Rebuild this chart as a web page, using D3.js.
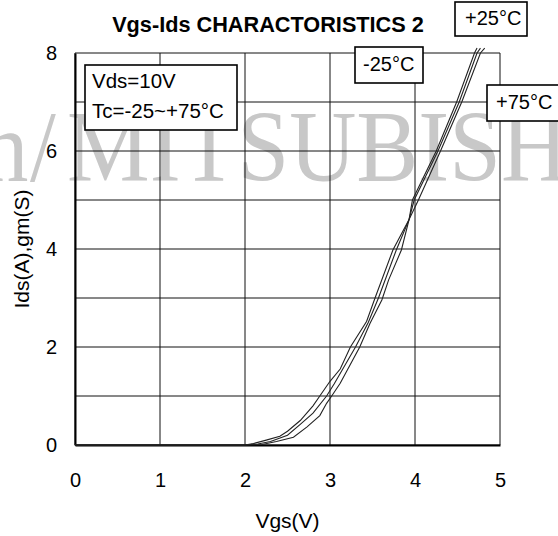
<!DOCTYPE html>
<html><head><meta charset="utf-8">
<script src="https://cdn.jsdelivr.net/npm/d3@7"></script>
<style>html,body{margin:0;padding:0;background:#fff}svg{display:block}</style>
</head><body>
<script>
const xTicks = [0, 1, 2, 3, 4, 5];
const yTicks = [0, 2, 4, 6, 8];
const yGrid = [0, 1, 2, 3, 4, 5, 6, 7, 8];

const vgsP75 = [0, 2.0, 2.1, 2.25, 2.41, 2.5, 2.65, 2.8, 2.88, 3.0, 3.12, 3.24, 3.43, 3.53, 3.74, 3.93, 4.04, 4.30, 4.55, 4.77, 4.82];
const idsP75 = [0, 0, 0.03, 0.1, 0.18, 0.28, 0.5, 0.8, 1.0, 1.3, 1.55, 2.0, 2.52, 3.0, 3.98, 4.6, 5.0, 6.0, 7.0, 8.0, 8.1];

const vgsP25 = [0, 2.0, 2.15, 2.3, 2.5, 2.65, 2.8, 2.96, 3.05, 3.3, 3.45, 3.57, 3.78, 3.93, 3.99, 4.27, 4.52, 4.73, 4.77];
const idsP25 = [0, 0, 0.02, 0.07, 0.2, 0.42, 0.65, 1.0, 1.25, 2.0, 2.5, 3.0, 3.98, 4.6, 5.0, 6.0, 7.0, 8.0, 8.1];

const vgsM25 = [0, 2.0, 2.2, 2.37, 2.57, 2.73, 2.88, 2.96, 3.02, 3.12, 3.35, 3.47, 3.61, 3.69, 3.84, 3.93, 3.97, 4.25, 4.49, 4.70, 4.73];
const idsM25 = [0, 0, 0.01, 0.07, 0.16, 0.37, 0.6, 0.85, 1.0, 1.26, 2.0, 2.48, 2.96, 3.37, 3.98, 4.6, 5.0, 6.0, 7.0, 8.0, 8.1];

const seriesNames = ["+75°C", "+25°C", "-25°C"];
const titleText = "Vgs-Ids CHARACTORISTICS 2";
const xTitle = "Vgs(V)";
const yTitle = "Ids(A),gm(S)";
const condLines = ["Vds=10V", "Tc=-25~+75°C"];

const W = 558, H = 536;
const svg = d3.select("body").append("svg").attr("width", W).attr("height", H)
  .style("font-family", "Arial, 'Liberation Sans', sans-serif");

const x = d3.scaleLinear().domain([0, 5]).range([75, 500]);
const y = d3.scaleLinear().domain([0, 8]).range([445, 53]);

// watermark
const wm = svg.append("text").attr("transform", "translate(0,181) scale(1,1.1)")
  .attr("font-family", "'Liberation Serif', 'Times New Roman', serif")
  .attr("font-size", 93).attr("fill", "#c8c8c8");
wm.append("tspan").attr("x", -18).text("n");
wm.append("tspan").attr("x", 30).text("/");
wm.append("tspan").attr("x", 67).text("MITSUBISHI");

// grid
const g = svg.append("g");
g.selectAll("line.vg").data(xTicks).join("line")
  .attr("x1", d => x(d)).attr("x2", d => x(d)).attr("y1", y(0)).attr("y2", y(8))
  .attr("stroke", "#111").attr("stroke-width", 1);
g.selectAll("line.hg").data(yGrid).join("line")
  .attr("x1", x(0)).attr("x2", x(5)).attr("y1", d => y(d)).attr("y2", d => y(d))
  .attr("stroke", "#111").attr("stroke-width", 1);

// axes
const xAxis = svg.append("g").attr("transform", `translate(0,${y(0)})`)
  .call(d3.axisBottom(x).tickValues(xTicks).tickSize(0).tickPadding(28).tickFormat(d3.format("d")));
const yAxis = svg.append("g").attr("transform", `translate(${x(0)},0)`)
  .call(d3.axisLeft(y).tickValues(yTicks).tickSize(0).tickPadding(18).tickFormat(d3.format("d")));
[xAxis, yAxis].forEach(a => {
  a.selectAll("text").attr("font-size", 20).attr("font-family", "Arial, 'Liberation Sans', sans-serif").attr("fill", "#000");
  a.select(".domain").attr("stroke", "#000").attr("stroke-width", 2);
});

// curves
const line = d3.line().x(d => x(d[0])).y(d => y(d[1]));
const curves = [
  d3.zip(vgsP75, idsP75),
  d3.zip(vgsP25, idsP25),
  d3.zip(vgsM25, idsM25)
];
svg.append("g").selectAll("path").data(curves).join("path")
  .attr("d", line).attr("fill", "none").attr("stroke", "#222").attr("stroke-width", 1.1);

// title
svg.append("text").attr("x", 268).attr("y", 32).attr("text-anchor", "middle")
  .attr("font-size", 21.7).attr("font-weight", "bold").text(titleText);

// axis titles
svg.append("text").attr("x", 287.5).attr("y", 528).attr("text-anchor", "middle")
  .attr("font-size", 21).text(xTitle);
svg.append("text").attr("transform", "translate(28.5,249) rotate(-90)")
  .attr("text-anchor", "middle").attr("font-size", 21).text(yTitle);

// boxes
function box(bx, by, bw, bh) {
  svg.append("rect").attr("x", bx).attr("y", by).attr("width", bw).attr("height", bh)
    .attr("fill", "#fff").attr("stroke", "#000").attr("stroke-width", 1.6);
}
box(85, 65, 152, 65);
svg.append("text").attr("x", 92).attr("y", 88).attr("font-size", 20.5).text(condLines[0]);
svg.append("text").attr("x", 92).attr("y", 118).attr("font-size", 20.5).text(condLines[1]);

box(455, 2, 72, 34);
svg.append("text").attr("x", 465).attr("y", 25).attr("font-size", 20).text(seriesNames[1]);
box(355, 47, 68, 36);
svg.append("text").attr("x", 363).attr("y", 71).attr("font-size", 20).text(seriesNames[2]);
box(487, 85, 80, 36);
svg.append("text").attr("x", 496).attr("y", 109).attr("font-size", 20).text(seriesNames[0]);
</script>
</body></html>
